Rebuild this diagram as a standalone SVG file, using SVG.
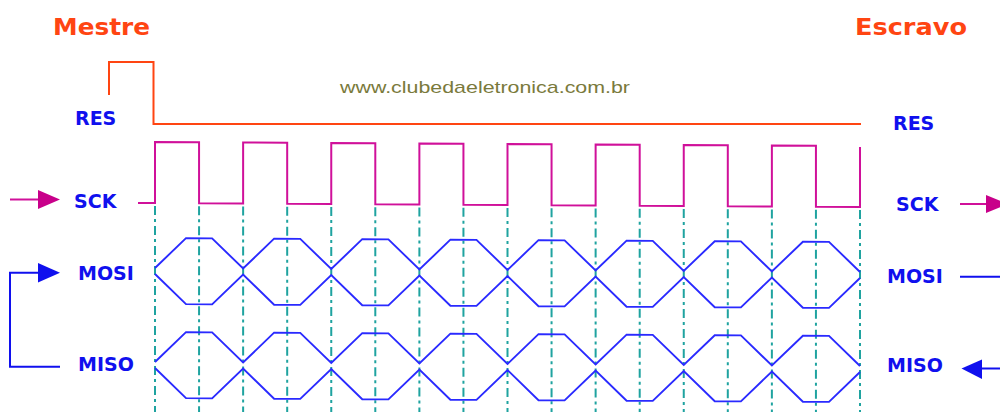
<svg xmlns="http://www.w3.org/2000/svg" xmlns:xlink="http://www.w3.org/1999/xlink" width="1000" height="412" viewBox="0 0 1000 412">
<style>
.title{font-family:"DejaVu Sans",Verdana,sans-serif;font-weight:bold;font-size:23px;fill:#ff4512}
.lbl{font-family:"DejaVu Sans",Verdana,sans-serif;font-weight:bold;font-size:19px;fill:#1010ee}
.wm{font-family:"Liberation Sans",Arial,sans-serif;font-size:17px;fill:#7a7a3c}
.res{fill:none;stroke:#ff4512;stroke-width:2}
.sck{fill:none;stroke:#d0109a;stroke-width:2}
.data{fill:none;stroke:#2a2aff;stroke-width:1.9}
.dash{stroke:#1fa3a0;stroke-width:2;stroke-dasharray:9 4 3 4}
.conn{fill:none;stroke-width:2}
</style>
<defs>
<path id="wave" d="M155,0 L186,-30 H212.1 L243.1,0 L274.1,-30 H300.25 L331.25,0 L362.25,-30 H388.4 L419.4,0 L450.4,-30 H476.5 L507.5,0 L538.5,-30 H564.6 L595.6,0 L626.6,-30 H652.75 L683.75,0 L714.75,-30 H740.9 L771.9,0 L802.9,-30 H829 L860,0"/>
</defs>
<rect width="1000" height="412" fill="#ffffff"/>
<g id="titles">
<text class="title" x="53" y="35" textLength="97" lengthAdjust="spacingAndGlyphs">Mestre</text>
<text class="title" x="855" y="35" textLength="112" lengthAdjust="spacingAndGlyphs">Escravo</text>
</g>
<g id="watermark">
<text class="wm" x="340" y="92.5" textLength="290" lengthAdjust="spacingAndGlyphs">www.clubedaeletronica.com.br</text>
</g>
<g id="res">
<path class="res" d="M109,95 V62 H153.5 V124 H861"/>
<text class="lbl" x="75" y="125">RES</text>
<text class="lbl" x="893" y="129.5">RES</text>
</g>
<g id="signals" transform="matrix(1,0.0057,0,1,0,-0.8835)">
<g id="dashes">
<line class="dash" x1="155" y1="206" x2="155" y2="420"/>
<line class="dash" x1="199.06" y1="206" x2="199.06" y2="420"/>
<line class="dash" x1="243.125" y1="206" x2="243.125" y2="420"/>
<line class="dash" x1="287.19" y1="206" x2="287.19" y2="420"/>
<line class="dash" x1="331.25" y1="206" x2="331.25" y2="420"/>
<line class="dash" x1="375.3" y1="206" x2="375.3" y2="420"/>
<line class="dash" x1="419.375" y1="206" x2="419.375" y2="420"/>
<line class="dash" x1="463.44" y1="206" x2="463.44" y2="420"/>
<line class="dash" x1="507.5" y1="206" x2="507.5" y2="420"/>
<line class="dash" x1="551.56" y1="206" x2="551.56" y2="420"/>
<line class="dash" x1="595.625" y1="206" x2="595.625" y2="420"/>
<line class="dash" x1="639.7" y1="206" x2="639.7" y2="420"/>
<line class="dash" x1="683.75" y1="206" x2="683.75" y2="420"/>
<line class="dash" x1="727.8" y1="206" x2="727.8" y2="420"/>
<line class="dash" x1="771.875" y1="206" x2="771.875" y2="420"/>
<line class="dash" x1="815.94" y1="206" x2="815.94" y2="420"/>
<line class="dash" x1="860" y1="206" x2="860" y2="420"/>
</g>
<g id="sck">
<path class="sck" d="M138,203 H155 V142 H199.06 V203 H243.125 V142 H287.19 V203 H331.25 V142 H375.3 V203 H419.375 V142 H463.44 V203 H507.5 V142 H551.56 V203 H595.625 V142 H639.7 V203 H683.75 V142 H727.8 V203 H771.875 V142 H815.94 V203 H860 V143"/>
</g>
<g id="mosi">
<use xlink:href="#wave" class="data" transform="translate(0,268)"/>
<use xlink:href="#wave" class="data" transform="translate(0,274) scale(1,-1)"/>
</g>
<g id="miso">
<use xlink:href="#wave" class="data" transform="translate(0,362)"/>
<use xlink:href="#wave" class="data" transform="translate(0,368) scale(1,-1)"/>
</g>
</g>
<g id="labels">
<text class="lbl" x="74" y="207.5">SCK</text>
<text class="lbl" x="896" y="211">SCK</text>
<text class="lbl" x="78" y="279.5">MOSI</text>
<text class="lbl" x="887" y="283">MOSI</text>
<text class="lbl" x="78" y="371">MISO</text>
<text class="lbl" x="887" y="372">MISO</text>
</g>
<g id="connectors">
<path class="conn" stroke="#d0109a" d="M10,199.5 H40"/>
<polygon fill="#c8008a" points="38,190 60,199.5 38,209"/>
<path class="conn" stroke="#d0109a" d="M960,204 H988"/>
<polygon fill="#c8008a" points="986,195 1008,204 986,213"/>
<path class="conn" stroke="#1010ee" d="M60,366.7 H10 V272.7 H40"/>
<polygon fill="#1010ee" points="38,263 60,272.7 38,282.5"/>
<path class="conn" stroke="#1010ee" d="M960,276.7 H1000"/>
<path class="conn" stroke="#1010ee" d="M1000,368.5 H980"/>
<polygon fill="#1010ee" points="982,359.5 961.5,368.5 982,379"/>
</g>
</svg>
